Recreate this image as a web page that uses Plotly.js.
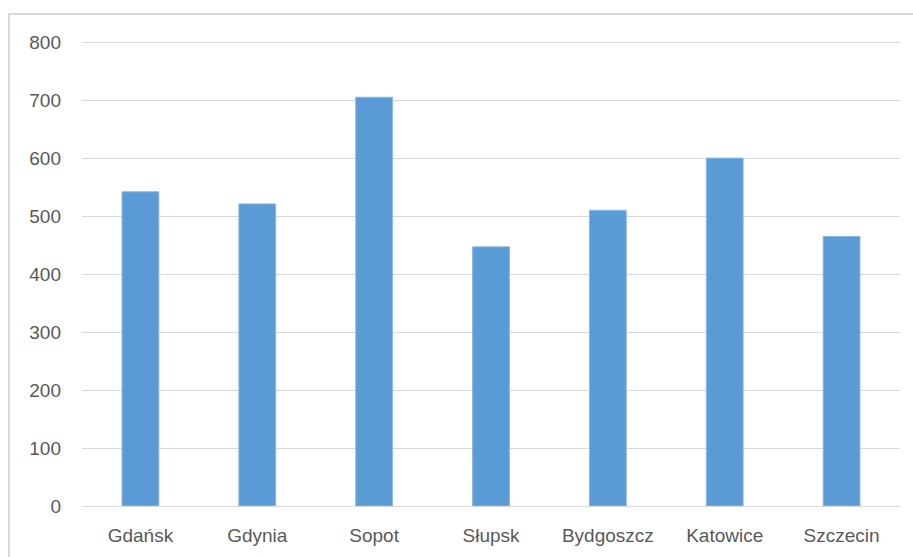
<!DOCTYPE html>
<html>
<head>
<meta charset="utf-8">
<script src="https://cdn.plot.ly/plotly-3.0.1.min.js"></script>
<style>
  html, body { margin:0; padding:0; background:#fff; overflow:hidden; }
  #chart { width:913px; height:557px; position:absolute; left:0; top:0; }
  #frame { position:absolute; left:8px; top:13px; width:1000px; height:1000px;
           border:2px solid #d9d9d9; pointer-events:none; box-sizing:border-box; }
</style>
</head>
<body>
<div id="chart"></div>
<div id="frame"></div>
<script>
const categories = ["Gdańsk", "Gdynia", "Sopot", "Słupsk", "Bydgoszcz", "Katowice", "Szczecin"];
const values = [542, 521, 705, 447, 510, 600, 465];
const yTicks = [0, 100, 200, 300, 400, 500, 600, 700, 800];

const trace = {
  type: "bar",
  x: categories,
  y: values,
  marker: { color: "#5b9bd5", line: { color: "#8ab8e4", width: 1 } },
  hoverinfo: "x+y"
};

const fontFam = "'Liberation Sans', Arial, sans-serif";

const layout = {
  width: 913,
  height: 557,
  margin: { l: 82, r: 13, t: 41, b: 51 },
  paper_bgcolor: "rgba(0,0,0,0)",
  plot_bgcolor: "#ffffff",
  showlegend: false,
  bargap: 0.685,
  font: { family: fontFam, size: 19, color: "#595959" },
  xaxis: {
    type: "category",
    showgrid: false,
    showline: false,
    zeroline: false,
    ticks: "",
    ticklabelstandoff: 16,
    tickfont: { family: fontFam, size: 19, color: "#595959" }
  },
  yaxis: {
    range: [0, 802],
    tickvals: yTicks,
    ticktext: yTicks.map(String),
    showgrid: true,
    gridcolor: "#d9d9d9",
    gridwidth: 1,
    zeroline: true,
    zerolinecolor: "#d9d9d9",
    zerolinewidth: 1,
    showline: false,
    ticks: "",
    ticklabelstandoff: 20,
    tickfont: { family: fontFam, size: 19, color: "#595959" }
  }
};

Plotly.newPlot("chart", [trace], layout, { staticPlot: true, displayModeBar: false });
</script>
</body>
</html>
